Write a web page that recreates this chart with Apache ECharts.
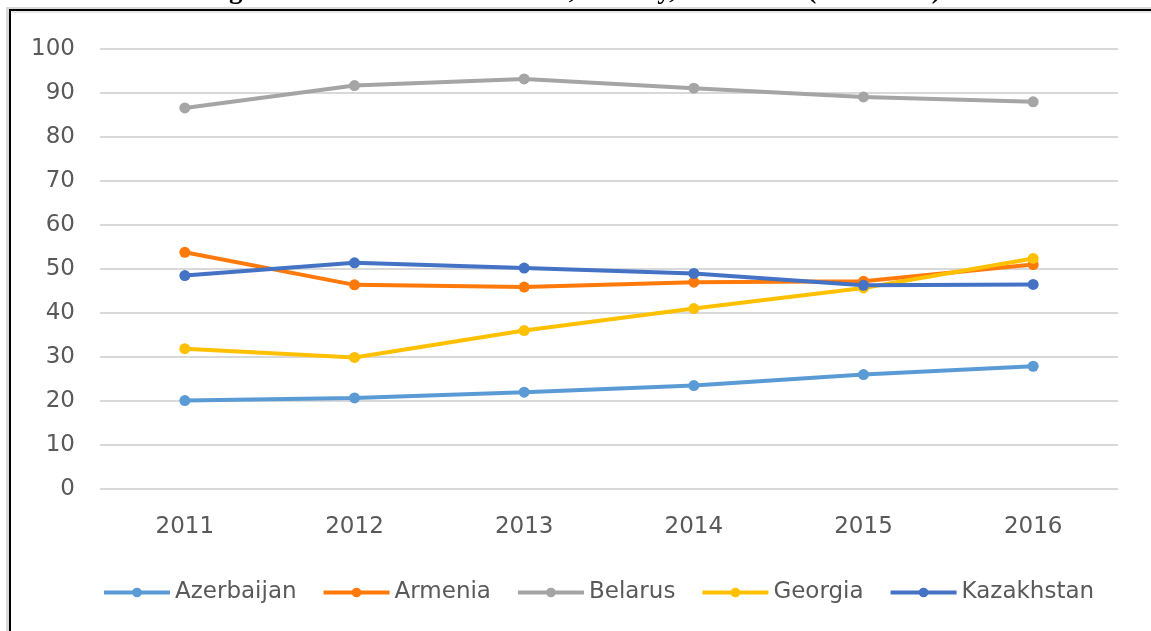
<!DOCTYPE html>
<html><head><meta charset="utf-8">
<script src="https://cdn.jsdelivr.net/npm/echarts@6/dist/echarts.min.js"></script>
<style>html,body{margin:0;padding:0;background:#fff;overflow:hidden}#c{width:1151px;height:631px}</style>
</head><body><div id="c"></div>
<script>
const years = ['2011','2012','2013','2014','2015','2016'];
const azerbaijan = [20.1, 20.7, 22.0, 23.5, 26.0, 27.9];
const armenia    = [53.8, 46.4, 45.9, 47.0, 47.2, 51.0];
const belarus    = [86.6, 91.7, 93.2, 91.1, 89.1, 88.0];
const georgia    = [31.9, 29.9, 36.0, 41.0, 45.7, 52.4];
const kazakhstan = [48.5, 51.4, 50.2, 49.0, 46.3, 46.5];
const seriesNames = ['Azerbaijan','Armenia','Belarus','Georgia','Kazakhstan'];
const seriesData = [azerbaijan, armenia, belarus, georgia, kazakhstan];
const colors = ['#5B9BD5','#FF7A0A','#A5A5A5','#FFC000','#4472C4'];
const titleText = 'Figure 1. Gross enrolment ratio, tertiary, both sexes (2011-2016)';
const FONT = '"DejaVu Sans", sans-serif';

const chart = echarts.init(document.getElementById('c'), null, {renderer:'canvas'});
chart.setOption({
  animation:false,
  color: colors,
  graphic:[
    {type:'rect', shape:{x:6,y:7,width:3,height:624}, style:{fill:'#d9d9d9'}},
    {type:'rect', shape:{x:6,y:7,width:1145,height:3}, style:{fill:'#d9d9d9'}},
    {type:'rect', shape:{x:9,y:9,width:2,height:622}, style:{fill:'#000'}},
    {type:'rect', shape:{x:9,y:9,width:1142,height:2}, style:{fill:'#000'}},
    {type:'rect', shape:{x:11,y:11,width:1140,height:2}, style:{fill:'#e6e6e6'}},
    {type:'text', style:{x:205, y:-9, text:titleText, verticalAlign:'middle', font:'bold 27px "Liberation Serif"', fill:'#000'}}
  ],
  grid:{left:100, right:33, top:49, bottom:142},
  legend:{
    data:seriesNames, top:576, left:97, itemWidth:66, itemHeight:12, itemGap:25,
    lineStyle:{width:4},
    textStyle:{color:'#595959', fontSize:23, fontFamily:FONT}
  },
  xAxis:{
    type:'category', data:years, boundaryGap:true,
    axisLine:{show:false}, axisTick:{show:false},
    axisLabel:{color:'#595959', fontSize:23, margin:27, fontFamily:FONT}
  },
  yAxis:{
    type:'value', min:0, max:100, interval:10,
    axisLine:{show:false}, axisTick:{show:false},
    axisLabel:{color:'#595959', fontSize:23, margin:25, fontFamily:FONT},
    splitLine:{lineStyle:{color:'#d9d9d9', width:2}}
  },
  series: seriesNames.map((n,i)=>({
    name:n, type:'line', data:seriesData[i], symbol:'circle', symbolSize:11,
    lineStyle:{width:4, color:colors[i]}, itemStyle:{color:colors[i]}
  }))
});
</script></body></html>
